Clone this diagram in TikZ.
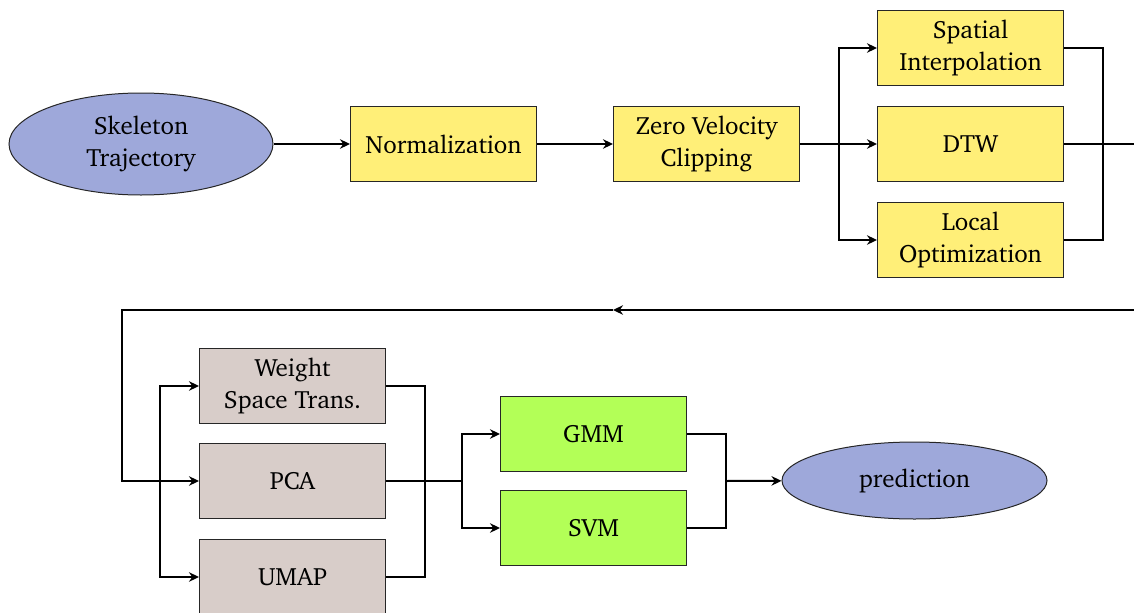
\documentclass[tikz,border=0pt]{standalone}
\usepackage[T1]{fontenc}
\usepackage{charter}
\usetikzlibrary{shapes.geometric,arrows.meta}
\definecolor{ovalblue}{RGB}{158,168,218}
\definecolor{prepyellow}{RGB}{255,239,120}
\definecolor{featgray}{RGB}{216,205,201}
\definecolor{clsgreen}{RGB}{179,255,87}
\tikzset{
  base/.style={draw=black!85,line width=0.4pt,align=center,inner sep=2pt,
    execute at begin node={\setlength{\baselineskip}{12.6pt}}},
  ovalnode/.style={base,ellipse,fill=ovalblue},
  prepbox/.style={base,rectangle,fill=prepyellow,minimum width=74.4pt,minimum height=30pt},
  featbox/.style={prepbox,fill=featgray},
  clsbox/.style={prepbox,fill=clsgreen},
  link/.style={thick,black},
  flow/.style={link,-{Stealth[length=4pt,width=3.8pt,inset=1.3pt]}},
}
\begin{document}
\begin{tikzpicture}[x=0.4pt,y=-0.4pt]
\useasboundingbox (0,0) rectangle (1134,613);
% first row: preprocessing
\node[ovalnode,minimum width=105.6pt,minimum height=40.8pt] (skel) at (141,144) {Skeleton\\Trajectory};
\node[prepbox] (norm) at (443.5,144) {Normalization};
\node[prepbox] (zvc) at (706.5,144) {Zero Velocity\\Clipping};
\node[prepbox] (spat) at (970.5,48) {Spatial\\Interpolation};
\node[prepbox] (dtw) at (970.5,144) {DTW};
\node[prepbox] (lopt) at (970.5,240) {Local\\Optimization};
% second row: features and classifiers
\node[featbox] (wst) at (292.5,386) {Weight\\Space Trans.};
\node[featbox] (pca) at (292.5,481) {PCA};
\node[featbox] (umap) at (292.5,577) {UMAP};
\node[clsbox] (gmm) at (593.5,434) {GMM};
\node[clsbox] (svm) at (593.5,528) {SVM};
\node[ovalnode,minimum width=106pt,minimum height=30.8pt] (pred) at (914.5,480.5) {prediction};
% helper points for the wiring
\coordinate (outA) at (1140,144);
\coordinate (backA) at (1140,310);
\coordinate (backM) at (613,310);
\coordinate (backL) at (122,310);
% first row wiring
\draw[flow] (skel) -- (norm);
\draw[flow] (norm) -- (zvc);
\draw[flow] (zvc) -- (dtw);
\draw[flow] (839,144) |- (spat);
\draw[flow] (839,144) |- (lopt);
\draw[link] (spat.east) -| (1103,240) -- (lopt.east);
\draw[link] (dtw.east) -- (outA);
% return line to the second row
\draw[flow] (backA) -- (backM);
\draw[flow] (backM) -- (backL) |- (pca.west);
% second row wiring
\draw[flow] (160,481) |- (wst.west);
\draw[flow] (160,481) |- (umap.west);
\draw[link] (wst.east) -| (425,577) -- (umap.east);
\draw[link] (pca.east) -- (462,481);
\draw[flow] (462,481) |- (gmm.west);
\draw[flow] (462,481) |- (svm.west);
\draw[link] (gmm.east) -| (726,528) -- (svm.east);
\draw[flow] (726,481) -- (pred);
\end{tikzpicture}
\end{document}
